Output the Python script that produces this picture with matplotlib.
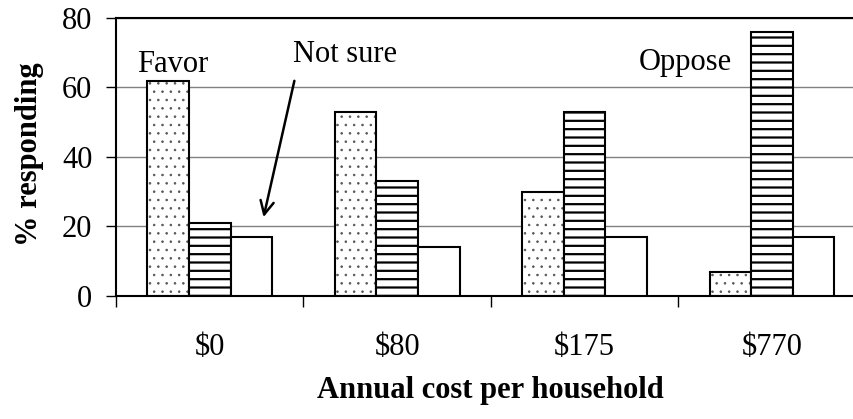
import matplotlib.pyplot as plt
import numpy as np

plt.rcParams['font.family'] = ['Liberation Serif', 'DejaVu Serif']
plt.rcParams['hatch.linewidth'] = 1.6

costs = ['$0', '$80', '$175', '$770']
favor = [62, 53, 30, 7]
oppose = [21, 33, 53, 76]
not_sure = [17, 14, 17, 17]

fig = plt.figure(figsize=(8.54, 4.19), dpi=100)
ax = fig.add_axes([0.1358, 0.2936, 0.878, 0.6635])

x = np.arange(len(costs)) + 0.5
w = 0.222

dots = ax.bar(x - w, favor, w, color='white', edgecolor='#555555', hatch='..', linewidth=0, zorder=2)
for p in dots:
    if hasattr(p, 'set_hatch_linewidth'):
        p.set_hatch_linewidth(0.6)
ax.bar(x - w, favor, w, fill=False, edgecolor='black', linewidth=1.5, zorder=3)
ax.bar(x, oppose, w, color='white', edgecolor='black', hatch='--', linewidth=1.5, zorder=3)
ax.bar(x + w, not_sure, w, color='white', edgecolor='black', linewidth=1.5, zorder=3)

ax.set_xlim(0, 4)
ax.set_ylim(0, 80)
ax.set_yticks([0, 20, 40, 60, 80])
ax.yaxis.grid(True, color='#808080', linewidth=1.0, zorder=0)
ax.set_axisbelow(True)

ax.set_xticks([0, 1, 2, 3, 4])
ax.set_xticklabels([])
ax.set_xticks(x, minor=True)
ax.set_xticklabels(costs, minor=True)
ax.tick_params(axis='x', which='major', direction='out', length=8, width=1)
ax.tick_params(axis='x', which='minor', length=0, pad=27, labelsize=22)
ax.tick_params(axis='y', direction='out', length=7, width=1, labelsize=22, pad=10)

for s in ['left', 'bottom']:
    ax.spines[s].set_linewidth(1.5)
ax.spines['top'].set_linewidth(1.5)
ax.spines['right'].set_visible(False)

ax.text(0.112, 64.5, 'Favor', fontsize=22, ha='left', va='baseline')
ax.text(0.944, 67.3, 'Not sure', fontsize=22, ha='left', va='baseline')
ax.text(2.789, 65.0, 'Oppose', fontsize=22, ha='left', va='baseline')
ax.annotate('', xy=(0.784, 21.9), xytext=(0.955, 62.7),
            arrowprops=dict(arrowstyle='->', color='black', lw=1.8, mutation_scale=24))

fig.text(0.034, 0.633, '% responding', rotation=90, fontsize=22, fontweight='bold',
         ha='center', va='center')
fig.text(0.574, 0.069, 'Annual cost per household', fontsize=22, fontweight='bold',
         ha='center', va='center')

fig.savefig('out.png', dpi=100)
